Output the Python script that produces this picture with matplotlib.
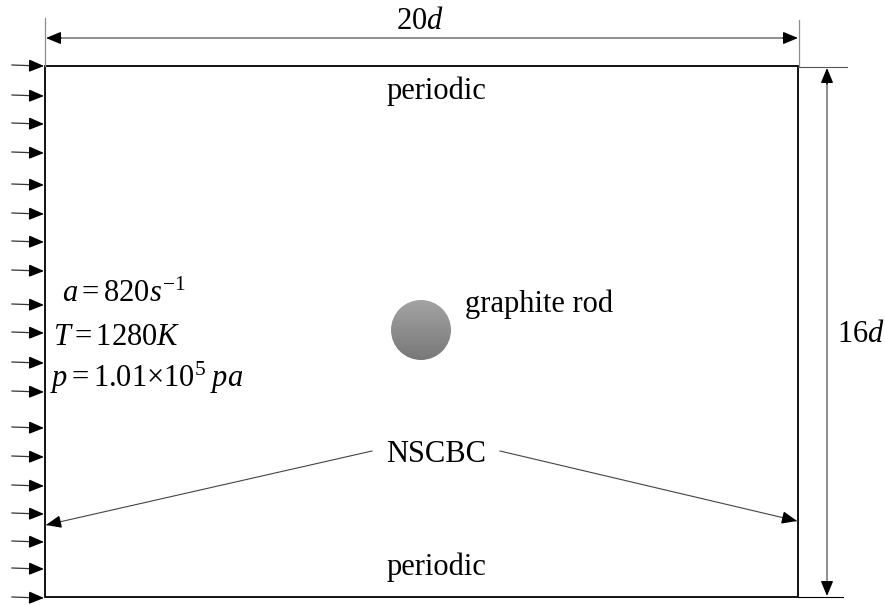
import numpy as np
import matplotlib
matplotlib.use('Agg')
import matplotlib.pyplot as plt
from matplotlib.patches import Rectangle, Circle

plt.rcParams['font.family'] = ['Liberation Serif', 'DejaVu Serif']
plt.rcParams['mathtext.fontset'] = 'custom'
plt.rcParams['mathtext.rm'] = 'Liberation Serif'
plt.rcParams['mathtext.it'] = 'Liberation Serif:italic'

# geometry in pixel units of the sketch (y grows downwards)
domain_x = [45, 798]
domain_y = [66, 597]
inlet_y = [66, 96, 124, 153, 185, 214, 242, 271, 305, 333, 363, 392,
           428, 457, 486, 514, 542, 569, 598]
rod_center = (421, 330)
rod_radius = 30
nscbc_left = [(372, 451), (46, 525)]
nscbc_right = [(500, 451), (797, 521)]

conditions = [r'$a=820s^{-1}$', r'$T=1280K$', r'$p=1.01{\times}10^{5}\;pa$']
conditions_pos = [(62, 302), (53, 345), (50, 387)]

FS = 22
GRAY = '#8e8e8e'

fig = plt.figure(figsize=(8.85, 6.05), dpi=100)
ax = fig.add_axes([0, 0, 1, 1])
ax.set_xlim(0, 885)
ax.set_ylim(605, 0)
ax.axis('off')


def head(ax, p0, p1, color='black', lw=1.0):
    ax.annotate('', xy=p1, xytext=p0,
                arrowprops=dict(arrowstyle='-|>,head_length=0.6,head_width=0.25',
                                mutation_scale=15, color=color, lw=lw,
                                shrinkA=0, shrinkB=0))


# domain
x0, x1 = domain_x
y0, y1 = domain_y
ax.add_patch(Rectangle((x0, y0), x1 - x0, y1 - y0, fill=False, ec='black', lw=1.3))

# inlet arrows
for y in inlet_y:
    ax.plot([12, 40], [y - 1, y], color='#333333', lw=0.9)
    head(ax, (30, y - 0.3), (44, y))

# horizontal dimension 20d
ax.plot([x0, x0], [18, y0], color=GRAY, lw=0.9)
ax.plot([x1 + 1, x1 + 1], [20, y0], color=GRAY, lw=0.9)
ax.plot([x0 + 8, x1 - 8], [38, 38], color=GRAY, lw=1.4)
head(ax, (x0 + 16, 38), (x0 + 1, 38))
head(ax, (x1 - 15, 38), (x1, 38))
ax.text(420, 29, r'20$d$', fontsize=FS, ha='center', va='baseline')

# vertical dimension 16d
ax.plot([x1, 847], [67, 67], color='#555555', lw=0.8)
ax.plot([x1, 843], [y1, y1], color='black', lw=0.8)
ax.plot([827, 827], [75, y1 - 8], color=GRAY, lw=1.4)
head(ax, (827, 84), (827, 68))
head(ax, (827, y1 - 15), (827, y1 - 1))
ax.text(837, 342, r'16$d$', fontsize=FS, ha='left', va='baseline')

# boundary labels
ax.text(436, 99, 'periodic', fontsize=FS, ha='center', va='baseline')
ax.text(436, 575, 'periodic', fontsize=FS, ha='center', va='baseline')
ax.text(436, 462, 'NSCBC', fontsize=FS, ha='center', va='baseline')

for (p0, p1) in [nscbc_left, nscbc_right]:
    ax.plot([p0[0], p1[0]], [p0[1], p1[1]], color='#444444', lw=0.8)
    d = np.array(p1) - np.array(p0)
    d = d / np.hypot(*d)
    head(ax, tuple(np.array(p1) - 13 * d), p1)

# inflow conditions
for txt, (x, y) in zip(conditions, conditions_pos):
    ax.text(x, y, txt, fontsize=FS, ha='left', va='baseline')

# graphite rod with vertical gradient
cx, cy = rod_center
grad = np.linspace(0.64, 0.47, 256).reshape(-1, 1)
im = ax.imshow(grad, cmap='gray', vmin=0, vmax=1, origin='upper',
               extent=(cx - rod_radius, cx + rod_radius, cy + rod_radius, cy - rod_radius),
               aspect='auto', zorder=3)
clip = Circle((cx, cy), rod_radius, transform=ax.transData, fc='none', ec='none')
ax.add_patch(clip)
im.set_clip_path(clip)
ax.set_xlim(0, 885)
ax.set_ylim(605, 0)
ax.text(465, 312, 'graphite rod', fontsize=FS, ha='left', va='baseline')

fig.savefig('out.png', dpi=100, facecolor='white')
